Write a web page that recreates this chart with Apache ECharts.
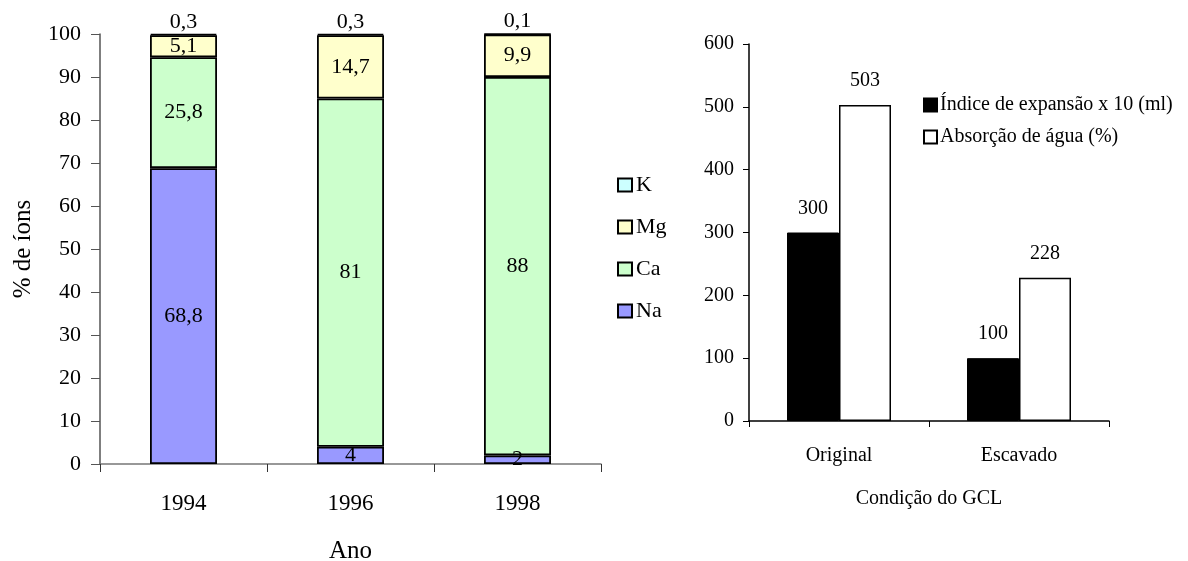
<!DOCTYPE html>
<html><head><meta charset="utf-8">
<script src="https://cdn.jsdelivr.net/npm/echarts@6/dist/echarts.min.js"></script>
<style>html,body{margin:0;padding:0;background:#fff}#c{width:1188px;height:561px}</style>
</head><body><div id="c"></div>
<script>
const years = ['1994', '1996', '1998'];
const na = [68.8, 4, 2];
const ca = [25.8, 81, 88];
const mg = [5.1, 14.7, 9.9];
const k = [0.3, 0.3, 0.1];

const conditions = ['Original', 'Escavado'];
const expansao = [300, 100];
const absorcao = [503, 228];

const FONT = '"Liberation Serif", "Times New Roman", serif';
const fmt = p => String(p.value).replace('.', ',');

const chart = echarts.init(document.getElementById('c'));
const ionLabel = (position, distance) => ({ show: true, position, distance, formatter: fmt, color: '#000', fontFamily: FONT, fontSize: 22 });
const ionSeries = (name, data, color, label) => ({
  name, type: 'bar', stack: 'ions', data, xAxisIndex: 0, yAxisIndex: 0,
  barWidth: 67,
  itemStyle: { color, borderColor: '#000', borderWidth: 1.8 },
  label
});

chart.setOption({
  animation: false,
  textStyle: { fontFamily: FONT },
  grid: [
    { left: 100, top: 34, width: 501, height: 430, outerBoundsMode: 'none', containLabel: false },
    { left: 749, top: 44, width: 360, height: 377, outerBoundsMode: 'none', containLabel: false }
  ],
  legend: [
    { orient: 'vertical', left: 612, top: 169, itemGap: 20, itemWidth: 14, itemHeight: 13,
      data: ['K', 'Mg', 'Ca', 'Na'], icon: 'rect',
      textStyle: { fontFamily: FONT, fontSize: 22, color: '#000', padding: [0, 0, 0, -1] } },
    { orient: 'vertical', left: 918, top: 90, itemGap: 12, itemWidth: 13, itemHeight: 13,
      data: ['Índice de expansão x 10 (ml)', 'Absorção de água (%)'], icon: 'rect',
      textStyle: { fontFamily: FONT, fontSize: 20, color: '#000', padding: [0, 0, 0, -2] } }
  ],
  xAxis: [
    { type: 'category', gridIndex: 0, data: years,
      axisLine: { lineStyle: { color: '#777', width: 1.5 } },
      axisTick: { show: true, length: 8, lineStyle: { color: '#333' } },
      axisLabel: { fontFamily: FONT, fontSize: 23, color: '#000', margin: 28 },
      name: 'Ano', nameLocation: 'middle', nameGap: 75,
      nameTextStyle: { fontFamily: FONT, fontSize: 25, color: '#000' } },
    { type: 'category', gridIndex: 1, data: conditions,
      axisLine: { lineStyle: { color: '#000', width: 1.5 } },
      axisTick: { show: true, length: 6, lineStyle: { color: '#000' } },
      axisLabel: { fontFamily: FONT, fontSize: 20, color: '#000', margin: 25 },
      name: 'Condição do GCL', nameLocation: 'middle', nameGap: 68,
      nameTextStyle: { fontFamily: FONT, fontSize: 20, color: '#000' } }
  ],
  yAxis: [
    { type: 'value', gridIndex: 0, min: 0, max: 100, interval: 10,
      axisLine: { show: true, lineStyle: { color: '#555', width: 1.5 } },
      axisTick: { show: true, length: 9, lineStyle: { color: '#555' } },
      splitLine: { show: false },
      axisLabel: { fontFamily: FONT, fontSize: 22, color: '#000', margin: 19 },
      name: '% de íons', nameLocation: 'middle', nameGap: 64,
      nameTextStyle: { fontFamily: FONT, fontSize: 25, color: '#000' } },
    { type: 'value', gridIndex: 1, min: 0, max: 600, interval: 100,
      axisLine: { show: true, lineStyle: { color: '#000', width: 1.5 } },
      axisTick: { show: true, length: 6, lineStyle: { color: '#000' } },
      splitLine: { show: false },
      axisLabel: { fontFamily: FONT, fontSize: 20, color: '#000', margin: 15 } }
  ],
  series: [
    ionSeries('Na', na, '#9999FF', ionLabel('inside')),
    ionSeries('Ca', ca, '#CCFFCC', ionLabel('inside')),
    ionSeries('Mg', mg, '#FFFFCC', ionLabel('inside')),
    ionSeries('K', k, '#CCFFFF', ionLabel('top', 1)),
    { name: 'Índice de expansão x 10 (ml)', type: 'bar', xAxisIndex: 1, yAxisIndex: 1, data: expansao,
      barWidth: 52, barGap: '0%',
      itemStyle: { color: '#000', borderColor: '#000', borderWidth: 1 },
      label: { show: true, position: 'top', distance: 14, color: '#000', fontFamily: FONT, fontSize: 20 } },
    { name: 'Absorção de água (%)', type: 'bar', xAxisIndex: 1, yAxisIndex: 1, data: absorcao,
      barWidth: 52, barGap: '0%',
      itemStyle: { color: '#fff', borderColor: '#000', borderWidth: 1.5 },
      label: { show: true, position: 'top', distance: 14, color: '#000', fontFamily: FONT, fontSize: 20 } }
  ]
});
</script></body></html>
